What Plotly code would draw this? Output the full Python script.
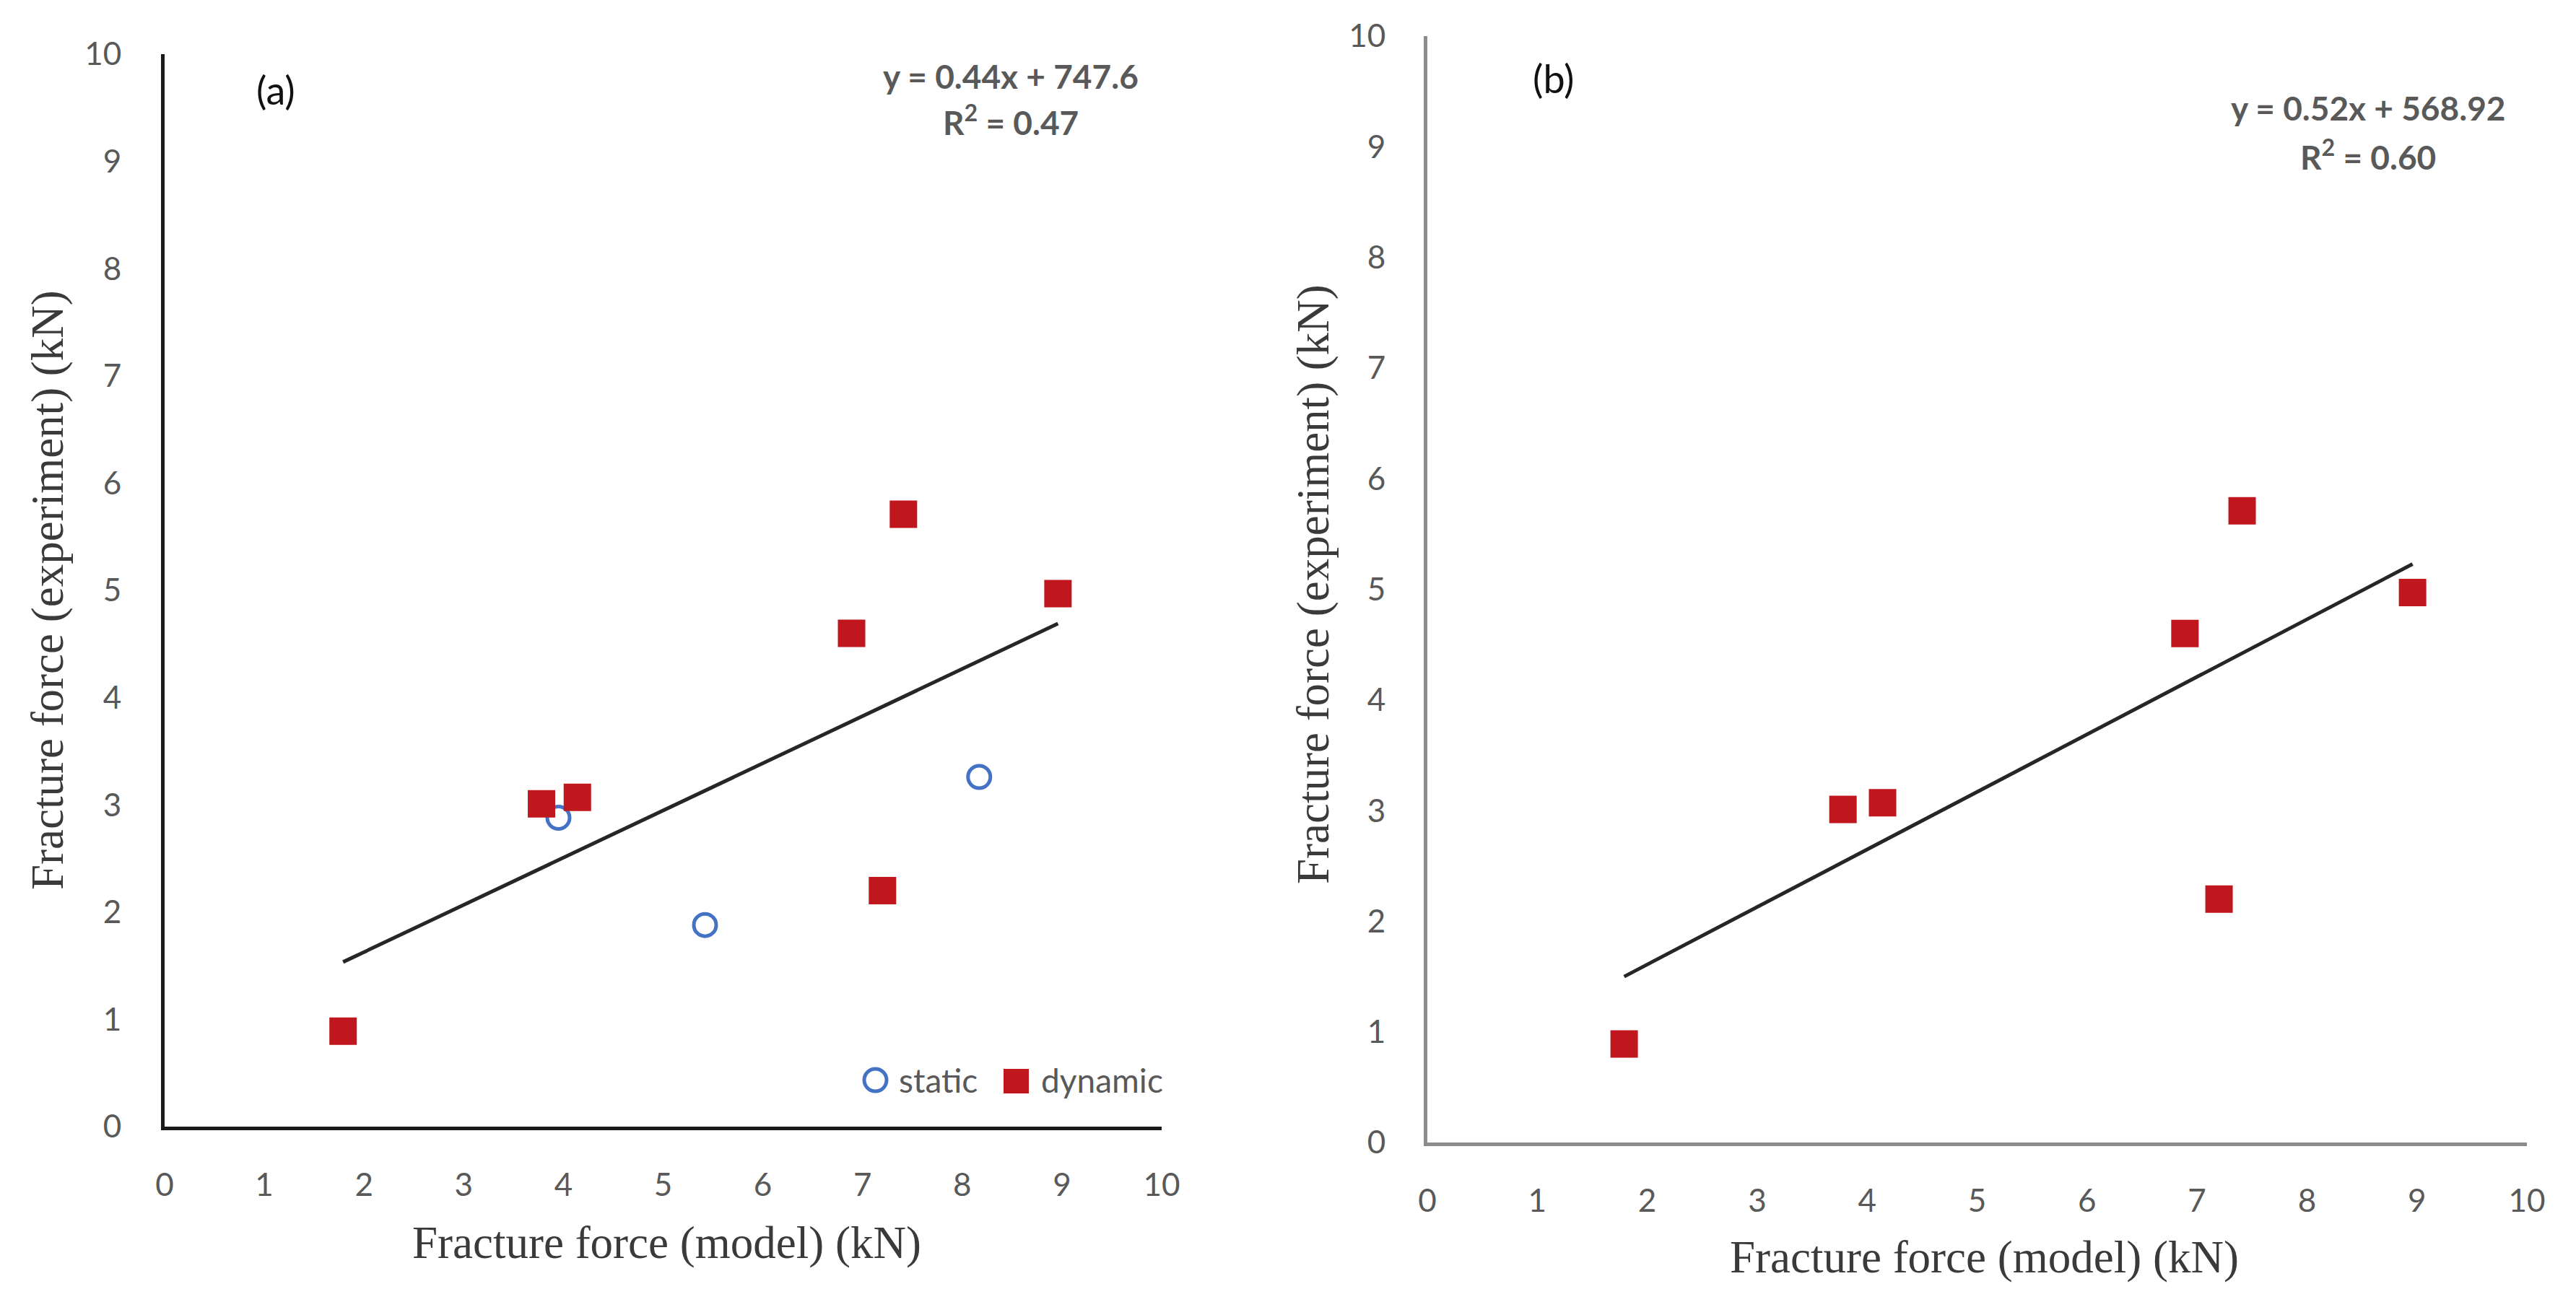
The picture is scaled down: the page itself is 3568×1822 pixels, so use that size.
import plotly.graph_objects as go

W, H = 3568, 1822

# ---------------- data (kN) ----------------
static_model = [3.95, 5.42, 8.17]
static_exp = [2.88, 1.88, 3.26]

dynamic_model = [1.79, 3.78, 4.14, 6.89, 7.41, 8.96, 7.20]
dynamic_exp = [0.89, 3.01, 3.07, 4.60, 5.71, 4.97, 2.20]

# trendline coefficients (printed equations, intercept in N -> kN)
slope_a, intercept_a = 0.44, 747.6 / 1000
slope_b, intercept_b = 0.52, 568.92 / 1000
eq_a = ["y = 0.44x + 747.6", "R<sup>2</sup> = 0.47"]
eq_b = ["y = 0.52x + 568.92", "R<sup>2</sup> = 0.60"]

tick_vals = list(range(0, 11))
tick_text = [str(v) for v in tick_vals]

x_title = "Fracture force (model) (kN)"
y_title = "Fracture force (experiment) (kN)"

# ---------------- styling ----------------
RED = "#C0171E"
BLUE = "#4472C4"
TICK_COL = "#595959"
TITLE_COL = "#3a3a3a"
SANS = "Lato, 'Open Sans', sans-serif"
SERIF = "'Liberation Serif', 'DejaVu Serif', serif"


def px(x):
    return x / W


def py(y):
    return 1 - y / H


fig = go.Figure()

# panel (a)
all_a_x = static_model + dynamic_model
xa = [min(all_a_x), max(all_a_x)]
fig.add_trace(go.Scatter(x=xa, y=[slope_a * v + intercept_a for v in xa], mode="lines",
                         line=dict(color="#262626", width=5), xaxis="x", yaxis="y",
                         showlegend=False, hoverinfo="skip"))
fig.add_trace(go.Scatter(x=static_model, y=static_exp, mode="markers", name="static",
                         marker=dict(symbol="circle-open", size=31, color=BLUE,
                                     line=dict(color=BLUE, width=5)),
                         xaxis="x", yaxis="y", showlegend=False))
fig.add_trace(go.Scatter(x=dynamic_model, y=dynamic_exp, mode="markers", name="dynamic",
                         marker=dict(symbol="square", size=38, color=RED, line=dict(width=0)),
                         xaxis="x", yaxis="y", showlegend=False))

# panel (b)
xb = [min(dynamic_model), max(dynamic_model)]
fig.add_trace(go.Scatter(x=xb, y=[slope_b * v + intercept_b for v in xb], mode="lines",
                         line=dict(color="#262626", width=5), xaxis="x2", yaxis="y2",
                         showlegend=False, hoverinfo="skip"))
fig.add_trace(go.Scatter(x=dynamic_model, y=dynamic_exp, mode="markers", name="dynamic",
                         marker=dict(symbol="square", size=38, color=RED, line=dict(width=0)),
                         xaxis="x2", yaxis="y2", showlegend=False))


def axis(domain, color, standoff, anchor):
    return dict(domain=domain, range=[0, 10], tickvals=tick_vals, ticktext=tick_text,
                showgrid=False, zeroline=False, showline=True, linecolor=color,
                linewidth=5, ticks="", tickfont=dict(family=SANS, size=44, color=TICK_COL),
                ticklabelstandoff=standoff, anchor=anchor, automargin=False, fixedrange=True)


fig.update_layout(
    width=W, height=H,
    margin=dict(l=0, r=0, t=0, b=0),
    paper_bgcolor="white", plot_bgcolor="white",
    showlegend=False,
    xaxis=axis([px(228), px(1609)], "#1a1a1a", 38, "y"),
    yaxis=axis([py(1561), py(75)], "#1a1a1a", 46, "x"),
    xaxis2=axis([px(1977), px(3500)], "#8c8c8c", 38, "y2"),
    yaxis2=axis([py(1583), py(50)], "#8c8c8c", 44, "x2"),
)


def note(text, cx, cy, font, xanchor="center", angle=0):
    return dict(text=text, x=px(cx), y=py(cy), xref="paper", yref="paper",
                xanchor=xanchor, yanchor="middle", textangle=angle,
                showarrow=False, font=font)


ann = []
# panel labels
ann.append(note("(a)", 382, 125, dict(family=SANS, size=54, color="#111111")))
ann.append(note("(b)", 2152, 108, dict(family=SANS, size=54, color="#111111")))
# equations
for (txt, cx, cy) in [(eq_a[0], 1400, 105), (eq_a[1], 1400, 166),
                      (eq_b[0], 3280, 150), (eq_b[1], 3280, 214)]:
    ann.append(note("<b>" + txt + "</b>", cx, cy, dict(family=SANS, size=46, color=TICK_COL)))
# axis titles
for (cx, cy) in [(923, 1722), (2748, 1742)]:
    ann.append(note(x_title, cx, cy, dict(family=SERIF, size=63, color=TITLE_COL)))
for (cx, cy) in [(66, 818), (1819, 810)]:
    ann.append(note(y_title, cx, cy, dict(family=SERIF, size=63, color=TITLE_COL), angle=-90))
# legend texts
ann.append(note("static", 1243, 1496, dict(family=SANS, size=46, color=TICK_COL), xanchor="left"))
ann.append(note("dynamic", 1440, 1496, dict(family=SANS, size=46, color=TICK_COL), xanchor="left"))

fig.update_layout(annotations=ann)

# legend symbols
fig.add_shape(type="circle", xref="paper", yref="paper",
              x0=px(1197), x1=px(1228), y0=py(1512), y1=py(1481),
              line=dict(color=BLUE, width=5), fillcolor="rgba(0,0,0,0)")
fig.add_shape(type="rect", xref="paper", yref="paper",
              x0=px(1390), x1=px(1425), y0=py(1515), y1=py(1481),
              line=dict(width=0), fillcolor=RED)

fig.write_html("out.html")
